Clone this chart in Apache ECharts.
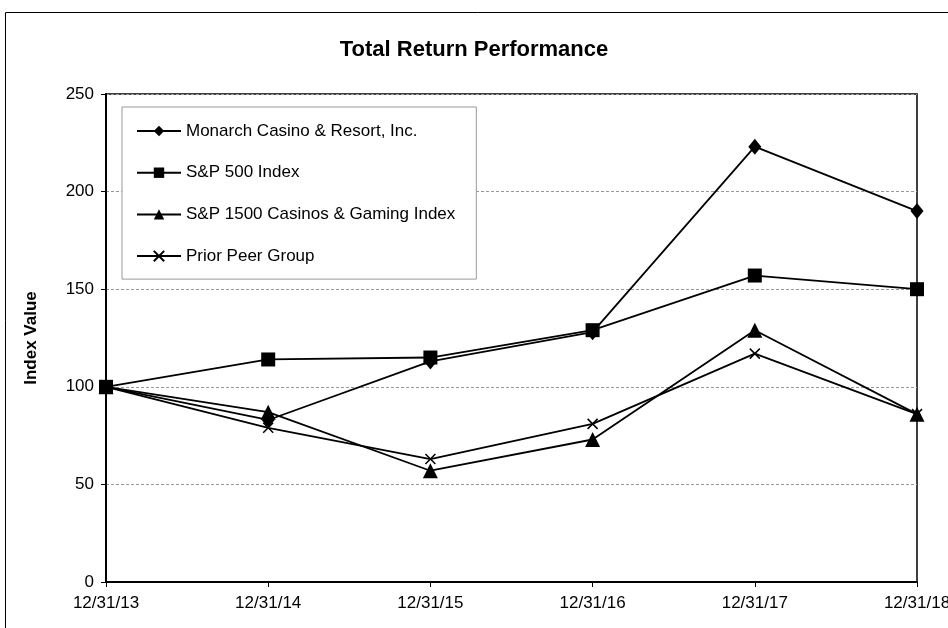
<!DOCTYPE html>
<html><head><meta charset="utf-8">
<script src="https://cdn.jsdelivr.net/npm/echarts@6/dist/echarts.min.js"></script>
<style>html,body{margin:0;padding:0;background:#fff;overflow:hidden}#c{width:948px;height:628px}</style>
</head><body><div id="c"></div>
<script>
const categories = ['12/31/13','12/31/14','12/31/15','12/31/16','12/31/17','12/31/18'];
const monarch = [100, 83, 113, 128, 223, 190];
const sp500 = [100, 114, 115, 129, 157, 150];
const sp1500Casinos = [100, 87, 57, 73, 129, 86];
const priorPeer = [100, 79, 63, 81, 117, 86];
const seriesNames = ['Monarch Casino & Resort, Inc.', 'S&P 500 Index', 'S&P 1500 Casinos & Gaming Index', 'Prior Peer Group'];

const chart = echarts.init(document.getElementById('c'), null, {renderer:'canvas'});
const font = 'Liberation Sans, Arial, sans-serif';
function mk(name, data, symbol, size, extra) {
  return Object.assign({
    name, type:'line', data, symbol, symbolSize:size, showSymbol:true,
    lineStyle:{color:'#000', width:1.8},
    itemStyle:{color:'#000'},
    emphasis:{disabled:true}, animation:false, z:3
  }, extra||{});
}
chart.setOption({
  animation:false,
  backgroundColor:'#fff',
  graphic:[{type:'rect', shape:{x:5.5, y:12.5, width:1000, height:700}, style:{fill:null, stroke:'#000', lineWidth:1}, silent:true, z:-1}],
  title:{text:'Total Return Performance', left:'center', top:34, itemGap:0,
    textStyle:{fontFamily:font, fontWeight:'bold', fontSize:22, color:'#000'}},
  grid:{left:106, right:31, top:94, bottom:46, show:true, borderColor:'#000', borderWidth:1.5,
    containLabel:false, outerBoundsMode:'none'},
  legend:{
    orient:'vertical', left:122, top:107,
    padding:[14, 21, 13, 14], itemGap:21.7, itemWidth:44, itemHeight:13,
    backgroundColor:'#fff', borderColor:'#999', borderWidth:1,
    textStyle:{fontFamily:font, fontSize:17, lineHeight:20, color:'#000'},
    data:seriesNames
  },
  xAxis:{type:'category', data:categories, boundaryGap:false,
    axisLine:{lineStyle:{color:'#000', width:2}},
    axisTick:{show:true, length:5, lineStyle:{color:'#000'}},
    axisLabel:{fontFamily:font, fontSize:17, color:'#000', margin:13},
    splitLine:{show:false}},
  yAxis:{type:'value', min:0, max:250, interval:50,
    name:'Index Value', nameLocation:'middle', nameGap:66, nameRotate:90,
    nameTextStyle:{fontFamily:font, fontWeight:'bold', fontSize:17, color:'#000'},
    axisLine:{show:true, lineStyle:{color:'#000', width:2}},
    axisTick:{show:true, length:5, lineStyle:{color:'#000'}},
    axisLabel:{fontFamily:font, fontSize:17, color:'#000', margin:12},
    splitLine:{show:true, lineStyle:{color:'#999', type:[3,2], width:1}}},
  series:[
    mk(seriesNames[0], monarch, 'diamond', [13,16]),
    mk(seriesNames[1], sp500, 'rect', 14),
    mk(seriesNames[2], sp1500Casinos, 'triangle', 15),
    mk(seriesNames[3], priorPeer, 'path://M0,0L10,10M10,0L0,10', 10,
       {itemStyle:{color:'#000', borderColor:'#000', borderWidth:1.5}})
  ]
});
</script></body></html>
